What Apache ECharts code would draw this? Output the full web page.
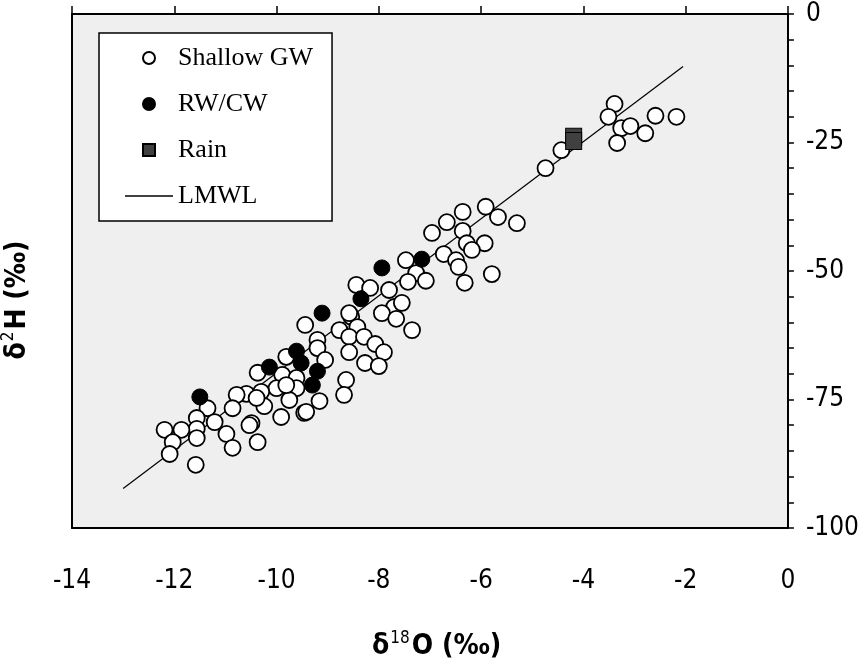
<!DOCTYPE html>
<html>
<head>
<meta charset="utf-8">
<script src="https://cdn.jsdelivr.net/npm/echarts@6/dist/echarts.min.js"></script>
<style>
  html, body { margin: 0; padding: 0; background: #ffffff; }
  #chart { width: 862px; height: 664px; }
</style>
</head>
<body>
<div id="chart"></div>
<script>
// δ18O / δ2H isotope pairs (‰)
const shallowGW = [
  [-3.39, -17.5], [-3.51, -20.0], [-3.26, -22.2], [-3.08, -21.8], [-3.34, -25.1],
  [-2.79, -23.2], [-2.59, -19.8], [-2.18, -20.0], [-4.43, -26.5], [-4.74, -30.0],
  [-6.36, -38.5], [-5.91, -37.5], [-5.67, -39.5], [-5.30, -40.7], [-6.67, -40.5],
  [-6.96, -42.6], [-6.36, -42.2], [-6.28, -44.6], [-5.93, -44.6], [-6.18, -45.9],
  [-6.73, -46.7], [-6.49, -47.9], [-6.44, -49.2], [-6.32, -52.3], [-5.79, -50.6],
  [-7.47, -47.9], [-7.27, -50.4], [-7.43, -52.1], [-7.08, -51.9], [-7.80, -53.7],
  [-8.44, -52.7], [-8.17, -53.3], [-7.70, -57.0], [-7.55, -56.2], [-7.94, -58.2],
  [-8.54, -58.9], [-7.66, -59.3], [-7.35, -61.5], [-8.42, -60.9], [-8.77, -61.5],
  [-8.58, -62.8], [-8.29, -62.8], [-8.07, -64.2], [-7.90, -65.8], [-8.58, -65.8],
  [-8.27, -67.9], [-8.00, -68.5], [-8.64, -71.2], [-8.68, -74.1], [-8.58, -58.2],
  [-9.44, -60.5], [-9.20, -63.4], [-9.20, -65.0], [-9.05, -67.3], [-9.81, -66.7],
  [-10.37, -69.8], [-9.89, -70.2], [-9.61, -70.8], [-10.00, -72.8], [-9.61, -72.8],
  [-10.30, -73.5], [-9.75, -75.1], [-9.16, -75.3], [-9.46, -77.6], [-9.91, -78.4],
  [-10.24, -76.3], [-10.49, -79.6], [-10.59, -73.9], [-10.78, -74.1], [-10.86, -76.7],
  [-11.35, -76.7], [-11.21, -79.4], [-11.56, -78.6], [-11.56, -80.7], [-11.86, -80.9],
  [-12.19, -80.9], [-12.03, -83.3], [-11.56, -82.5], [-12.09, -85.6], [-11.58, -87.7],
  [-10.98, -81.7], [-10.86, -84.4], [-10.53, -80.0], [-10.37, -83.3], [-9.42, -77.4],
  [-9.81, -72.2], [-10.39, -74.7]
];
const rwCw = [
  [-11.50, -74.5], [-10.14, -68.7], [-9.61, -65.6], [-9.52, -67.9], [-9.20, -69.5],
  [-9.30, -72.2], [-9.11, -58.2], [-8.35, -55.4], [-7.94, -49.4], [-7.16, -47.7]
];
const rain = [[-4.19, -23.9], [-4.19, -24.7]];
// local meteoric water line, end points
const lmwl = [[-13.0, -92.3], [-2.05, -10.2]];

const xTicks = { min: -14, max: 0, step: 2 };
const yTicks = { min: -100, max: 0, step: 25 };

const tickFont = { fontFamily: '"Liberation Sans Narrow", "DejaVu Sans Condensed", sans-serif', fontSize: 26, color: '#000' };
const titleFont = '"Liberation Sans Narrow", "DejaVu Sans Condensed", sans-serif';

const chart = echarts.init(document.getElementById('chart'));
chart.setOption({
  animation: false,
  backgroundColor: '#ffffff',
  grid: {
    left: 72, right: 72, top: 14, bottom: 136,
    show: true, backgroundColor: '#efefef', borderWidth: 0
  },
  legend: {
    left: 99, top: 33,
    orient: 'vertical',
    backgroundColor: '#ffffff',
    borderColor: '#000', borderWidth: 1.5,
    padding: [12, 19, 12, 26],
    itemGap: 20,
    itemWidth: 48, itemHeight: 12,
    symbolKeepAspect: true,
    textStyle: { fontFamily: '"Liberation Serif", "DejaVu Serif", serif', fontSize: 26, color: '#000' },
    data: [
      { name: 'Shallow GW', icon: 'circle' },
      { name: 'RW/CW', icon: 'circle' },
      { name: 'Rain', icon: 'path://M0,0H10V10H0Z' },
      { name: 'LMWL', icon: 'path://M0,0H48V1.5H0Z', itemStyle: { color: '#000', borderWidth: 0 } }
    ]
  },
  xAxis: [
    {
      type: 'value', position: 'bottom',
      min: xTicks.min, max: xTicks.max, interval: xTicks.step,
      axisLine: { show: true, onZero: false, lineStyle: { color: '#000', width: 2 } },
      axisTick: { show: false },
      splitLine: { show: false },
      axisLabel: Object.assign({ margin: 40 }, tickFont)
    },
    {
      type: 'value', position: 'top',
      min: xTicks.min, max: xTicks.max, interval: xTicks.step,
      axisLine: { show: true, onZero: false, lineStyle: { color: '#000', width: 2 } },
      axisTick: { show: true, length: 8, lineStyle: { color: '#000', width: 1.5 } },
      splitLine: { show: false },
      axisLabel: { show: false }
    }
  ],
  yAxis: [
    {
      type: 'value', position: 'right',
      min: yTicks.min, max: yTicks.max, interval: yTicks.step,
      axisLine: { show: true, onZero: false, lineStyle: { color: '#000', width: 2 } },
      axisTick: { show: true, length: 6, lineStyle: { color: '#000', width: 1.5 } },
      minorTick: { show: true, splitNumber: 5, length: 6, lineStyle: { color: '#000', width: 1.5 } },
      splitLine: { show: false },
      axisLabel: Object.assign({ margin: 18, align: 'left' }, tickFont)
    },
    {
      type: 'value', position: 'left',
      min: yTicks.min, max: yTicks.max, interval: yTicks.step,
      axisLine: { show: true, onZero: false, lineStyle: { color: '#000', width: 2 } },
      axisTick: { show: false },
      splitLine: { show: false },
      axisLabel: { show: false }
    }
  ],
  graphic: [
    {
      type: 'text', left: 372, top: 630,
      style: {
        text: '{d|δ}{s|18}{d|O (‰)}',
        rich: {
          d: { fontFamily: titleFont, fontWeight: 'bold', fontSize: 28, color: '#000', verticalAlign: 'bottom' },
          s: { fontFamily: titleFont, fontSize: 17, color: '#000', verticalAlign: 'top', padding: [0, 2, 14, 1] }
        }
      }
    },
    {
      type: 'text', x: 16, y: 300, rotation: Math.PI / 2,
      style: {
        text: '{d|δ}{s|2}{d|H (‰)}',
        align: 'center', verticalAlign: 'middle',
        rich: {
          d: { fontFamily: titleFont, fontWeight: 'bold', fontSize: 28, color: '#000', verticalAlign: 'bottom' },
          s: { fontFamily: titleFont, fontSize: 17, color: '#000', verticalAlign: 'top', padding: [0, 2, 14, 1] }
        }
      }
    }
  ],
  series: [
    {
      name: 'LMWL', type: 'line', data: lmwl,
      showSymbol: false, symbol: 'none',
      lineStyle: { color: '#000', width: 1.2 },
      itemStyle: { color: '#000' },
      z: 1
    },
    {
      name: 'Shallow GW', type: 'scatter', data: shallowGW,
      symbol: 'circle', symbolSize: 16,
      itemStyle: { color: '#ffffff', borderColor: '#000', borderWidth: 1.8, opacity: 1 },
      z: 2
    },
    {
      name: 'RW/CW', type: 'scatter', data: rwCw,
      symbol: 'circle', symbolSize: 16,
      itemStyle: { color: '#000', borderColor: '#000', borderWidth: 1, opacity: 1 },
      z: 3
    },
    {
      name: 'Rain', type: 'scatter', data: rain,
      symbol: 'rect', symbolSize: [16, 17],
      itemStyle: { color: '#404040', borderColor: '#000', borderWidth: 1, opacity: 1 },
      z: 3
    }
  ]
});
</script>
</body>
</html>
